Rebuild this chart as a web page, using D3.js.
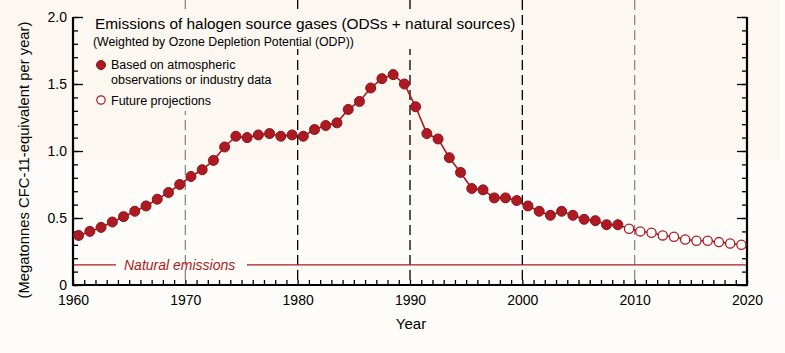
<!DOCTYPE html>
<html><head><meta charset="utf-8">
<script src="https://cdn.jsdelivr.net/npm/d3@7"></script>
<style>
html,body{margin:0;padding:0;background:#fefcf8;}
svg{display:block;font-family:"Liberation Sans",Arial,Helvetica,sans-serif;}
</style></head><body>
<svg id="c" width="785" height="353"></svg>
<script>
// ---- data ----
const observedYears = d3.range(1960.5, 2009, 1);
const observedValues = [0.37,0.40,0.43,0.47,0.51,0.55,0.59,0.64,0.69,0.75,
  0.81,0.86,0.93,1.03,1.11,1.10,1.12,1.13,1.11,1.12,
  1.11,1.16,1.19,1.21,1.31,1.37,1.47,1.54,1.57,1.50,
  1.33,1.13,1.09,0.95,0.84,0.72,0.71,0.65,0.65,0.63,
  0.59,0.55,0.52,0.55,0.52,0.49,0.48,0.45,0.45];
const projectedYears = d3.range(2009.5, 2020, 1);
const projectedValues = [0.42,0.40,0.39,0.37,0.36,0.34,0.33,0.33,0.32,0.31,0.30];
const naturalEmissions = 0.15;
const xTickLabels = ["1960","1970","1980","1990","2000","2010","2020"];
const xTickValues = [1960,1970,1980,1990,2000,2010,2020];
const yTickValues = [0,0.5,1.0,1.5,2.0];
const yTickLabels = ["0","0.5","1.0","1.5","2.0"];
const greyDecades = [1970,2010];
const blackDecades = [1980,1990,2000];

const title = "Emissions of halogen source gases (ODSs + natural sources)";
const subtitle = "(Weighted by Ozone Depletion Potential (ODP))";
const legendObserved = ["Based on atmospheric","observations or industry data"];
const legendProjected = "Future projections";
const naturalLabel = "Natural emissions";
const yLabel = "(Megatonnes CFC-11-equivalent per year)";
const xLabel = "Year";

// ---- layout ----
const svg = d3.select("#c");
const L = 73, R = 747, T = 17, B = 285;
const RED = "#ad1a22", RED_D = "#8e131a";
const x = d3.scaleLinear().domain([1960,2020]).range([L,R]);
const y = d3.scaleLinear().domain([0,2]).range([B,T]);

// background
svg.append("rect").attr("width",785).attr("height",353).attr("fill","#fefcf8");
svg.append("rect").attr("width",780).attr("height",160).attr("fill","#fcf7f1");

// decade dashed lines
svg.selectAll("line.gd").data(greyDecades).join("line")
  .attr("x1",d=>x(d)).attr("x2",d=>x(d)).attr("y1",0).attr("y2",B)
  .attr("stroke","#8a8a8a").attr("stroke-width",1.3).attr("stroke-dasharray","10,5");
svg.selectAll("line.bd").data(blackDecades).join("line")
  .attr("x1",d=>x(d)).attr("x2",d=>x(d)).attr("y1",0).attr("y2",B)
  .attr("stroke","#000").attr("stroke-width",1.3).attr("stroke-dasharray","10,5");

// boxes behind title/legend
svg.append("rect").attr("x",88).attr("y",9).attr("width",430).attr("height",40).attr("fill","#fcf7f1");
svg.append("rect").attr("x",88).attr("y",49).attr("width",200).attr("height",62).attr("fill","#fcf7f1");

// natural emissions line with gap for label
const ny = y(naturalEmissions);
svg.append("line").attr("x1",L).attr("x2",116).attr("y1",ny).attr("y2",ny).attr("stroke",RED).attr("stroke-width",1.2);
svg.append("line").attr("x1",247).attr("x2",R).attr("y1",ny).attr("y2",ny).attr("stroke",RED).attr("stroke-width",1.2);
svg.append("text").attr("x",124).attr("y",ny+5).attr("fill",RED).attr("font-style","italic")
  .attr("font-size",14).text(naturalLabel);

// axes
const minorY = d3.range(0,2.001,0.1).map(v=>+v.toFixed(1));
const minorX = d3.range(1960,2021,1);
function styleAxis(g){ g.select(".domain").remove(); g.selectAll("line").attr("stroke","#000").attr("stroke-width",1.3); }

svg.append("g").attr("transform",`translate(${L},0)`)
  .call(d3.axisLeft(y).tickValues(minorY).tickSize(-5).tickFormat(""))
  .call(styleAxis);
svg.append("g").attr("transform",`translate(${L},0)`)
  .call(d3.axisLeft(y).tickValues(yTickValues).tickSize(-10).tickPadding(16).tickFormat((d,i)=>yTickLabels[i]))
  .call(styleAxis)
  .call(g=>g.selectAll("text").attr("font-size",14).attr("fill","#000").attr("font-family","Liberation Sans, Arial").attr("dx",10).attr("text-anchor","end"));
svg.append("g").attr("transform",`translate(${R},0)`)
  .call(d3.axisRight(y).tickValues(minorY).tickSize(-5).tickFormat(""))
  .call(styleAxis);
svg.append("g").attr("transform",`translate(${R},0)`)
  .call(d3.axisRight(y).tickValues(yTickValues).tickSize(-10).tickFormat(""))
  .call(styleAxis);
svg.append("g").attr("transform",`translate(0,${B})`)
  .call(d3.axisBottom(x).tickValues(minorX).tickSize(-5).tickFormat(""))
  .call(styleAxis);
svg.append("g").attr("transform",`translate(0,${B})`)
  .call(d3.axisBottom(x).tickValues(xTickValues).tickSize(0).tickPadding(10).tickFormat((d,i)=>xTickLabels[i]))
  .call(styleAxis)
  .call(g=>g.selectAll("text").attr("font-size",14).attr("fill","#000").attr("font-family","Liberation Sans, Arial"));

// axis frame lines
svg.append("line").attr("x1",L).attr("x2",L).attr("y1",T).attr("y2",B+1).attr("stroke","#000").attr("stroke-width",2.2);
svg.append("line").attr("x1",R).attr("x2",R).attr("y1",T).attr("y2",B+1).attr("stroke","#000").attr("stroke-width",2.2);
svg.append("line").attr("x1",L-1).attr("x2",R+1).attr("y1",B).attr("y2",B).attr("stroke","#000").attr("stroke-width",2.2);

// data line
const allYears = observedYears.concat(projectedYears);
const allValues = observedValues.concat(projectedValues);
const pts = allYears.map((yr,i)=>[yr,allValues[i]]);
svg.append("path").datum(pts)
  .attr("d",d3.line().x(d=>x(d[0])).y(d=>y(d[1])))
  .attr("fill","none").attr("stroke",RED).attr("stroke-width",1.6);

svg.selectAll("circle.obs").data(observedYears.map((yr,i)=>[yr,observedValues[i]])).join("circle")
  .attr("cx",d=>x(d[0])).attr("cy",d=>y(d[1])).attr("r",5)
  .attr("fill",RED).attr("stroke",RED_D).attr("stroke-width",1);
svg.selectAll("circle.proj").data(projectedYears.map((yr,i)=>[yr,projectedValues[i]])).join("circle")
  .attr("cx",d=>x(d[0])).attr("cy",d=>y(d[1])).attr("r",4.6)
  .attr("fill","#fff").attr("stroke",RED).attr("stroke-width",1.3);

// title & legend
svg.append("text").attr("x",95).attr("y",29).attr("font-size",15.4).attr("fill","#000").text(title);
svg.append("text").attr("x",93).attr("y",46).attr("font-size",12.3).attr("fill","#000").text(subtitle);
svg.append("circle").attr("cx",101).attr("cy",65).attr("r",4.5).attr("fill",RED).attr("stroke",RED_D);
svg.append("text").attr("x",111).attr("y",69).attr("font-size",12.5).attr("fill","#000").text(legendObserved[0]);
svg.append("text").attr("x",111).attr("y",84).attr("font-size",12.5).attr("fill","#000").text(legendObserved[1]);
svg.append("circle").attr("cx",101).attr("cy",100).attr("r",4.2).attr("fill","#fff").attr("stroke",RED).attr("stroke-width",1.2);
svg.append("text").attr("x",111).attr("y",105).attr("font-size",12.5).attr("fill","#000").text(legendProjected);

// axis titles
svg.append("text").attr("x",411).attr("y",329).attr("text-anchor","middle").attr("font-size",15).attr("fill","#000").text(xLabel);
svg.append("text").attr("transform","translate(29,160) rotate(-90)").attr("text-anchor","middle")
  .attr("font-size",14.8).attr("fill","#000").text(yLabel);
</script>
</body></html>
